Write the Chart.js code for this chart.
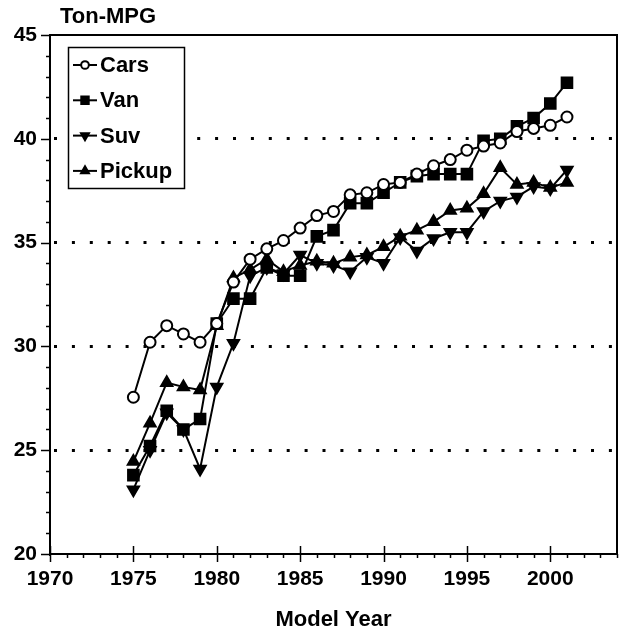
<!DOCTYPE html>
<html>
<head>
<meta charset="utf-8">
<script src="https://cdn.jsdelivr.net/npm/chart.js@4.4.0/dist/chart.umd.min.js"></script>
<style>
html,body{margin:0;padding:0;background:#fff;}
canvas{display:block;}
</style>
</head>
<body>
<canvas id="c" width="619" height="633"></canvas>
<script>
// ---------- data ----------
const years = [1975,1976,1977,1978,1979,1980,1981,1982,1983,1984,1985,1986,1987,1988,1989,1990,1991,1992,1993,1994,1995,1996,1997,1998,1999,2000,2001];
const cars   = [27.55,30.2,31.0,30.6,30.2,31.1,33.1,34.2,34.7,35.1,35.7,36.3,36.5,37.3,37.4,37.8,37.9,38.3,38.7,39.0,39.45,39.65,39.8,40.35,40.5,40.65,41.05];
const van    = [23.8,25.2,26.9,26.0,26.5,31.1,32.3,32.3,33.8,33.4,33.4,35.3,35.6,36.9,36.9,37.4,37.9,38.2,38.3,38.3,38.3,39.9,40.0,40.6,41.0,41.7,42.7];
const suv    = [23.1,25.0,26.8,26.0,24.1,28.05,30.15,33.4,33.8,33.5,34.4,34.0,33.9,33.6,34.3,34.0,35.25,34.6,35.2,35.5,35.5,36.5,37.0,37.2,37.7,37.6,38.5];
const pickup = [24.45,26.3,28.25,28.05,27.9,31.0,33.3,33.7,34.2,33.6,33.9,34.1,34.0,34.3,34.4,34.8,35.3,35.6,36.0,36.55,36.65,37.35,38.6,37.8,37.9,37.65,37.9];
const seriesLabels = ['Cars','Van','Suv','Pickup'];
const xTickValues = [1970,1975,1980,1985,1990,1995,2000];
const yTickValues = [20,25,30,35,40,45];
const gridValues = [25,30,35,40];
const yTitle = 'Ton-MPG';
const xTitle = 'Model Year';

// ---------- styling ----------
const FONT = '"Liberation Sans", Arial, Helvetica, sans-serif';
const tickFont = {family: FONT, size: 21, weight: 'bold'};
const axisTitleFont = {family: FONT, size: 22, weight: 'bold'};

function series(label, vals, style, rot, fill, r) {
  return {
    label: label,
    data: years.map((yr, i) => ({x: yr, y: vals[i]})),
    borderColor: '#000', borderWidth: 2, tension: 0, fill: false,
    pointStyle: style, pointRotation: rot, pointRadius: r,
    pointBackgroundColor: fill, pointBorderColor: '#000', pointBorderWidth: 2,
    legendRadius: r * 0.7
  };
}

const datasets = [
  series(seriesLabels[0], cars, 'circle', 0, '#fff', 5.5),
  series(seriesLabels[1], van, 'rect', 0, '#000', 7.5),
  series(seriesLabels[2], suv, 'triangle', 180, '#000', 6.5),
  series(seriesLabels[3], pickup, 'triangle', 0, '#000', 6.5)
];

const decor = {
  id: 'decor',
  beforeDatasetsDraw(chart) {
    const {ctx, chartArea: a, scales: {x, y}} = chart;
    ctx.save();
    ctx.strokeStyle = '#000';
    ctx.lineWidth = 2;
    ctx.beginPath();
    ctx.moveTo(a.left, a.top); ctx.lineTo(a.right, a.top); ctx.lineTo(a.right, a.bottom);
    ctx.stroke();
    ctx.lineWidth = 1.5;
    for (let v = x.min; v <= x.max; v++) {
      const px = Math.round(x.getPixelForValue(v)) + 0.5;
      ctx.beginPath();
      if (v % 5 === 0) { ctx.moveTo(px, a.bottom - 8); ctx.lineTo(px, a.bottom + 8); }
      else { ctx.moveTo(px, a.bottom); ctx.lineTo(px, a.bottom + 4); }
      ctx.stroke();
    }
    for (let v = y.min; v <= y.max; v++) {
      const py = Math.round(y.getPixelForValue(v)) + 0.5;
      ctx.beginPath();
      if (v % 5 === 0) { ctx.moveTo(a.left - 9, py); ctx.lineTo(a.left, py); }
      else { ctx.moveTo(a.left - 4, py); ctx.lineTo(a.left, py); }
      ctx.stroke();
    }
    ctx.fillStyle = '#000';
    ctx.font = 'bold 22px ' + FONT;
    ctx.textBaseline = 'middle';
    ctx.textAlign = 'left';
    ctx.fillText(yTitle, 60, 17);
    ctx.restore();
  },
  afterDatasetsDraw(chart) {
    const ctx = chart.ctx;
    const L = 68, T = 47, R = 184, B = 188;
    ctx.save();
    ctx.fillStyle = '#fff';
    ctx.fillRect(L, T, R - L, B - T);
    ctx.strokeStyle = '#000';
    ctx.lineWidth = 1.5;
    ctx.strokeRect(L + 0.5, T + 0.5, R - L, B - T);
    chart.data.datasets.forEach((ds, i) => {
      const cy = 65 + i * 35.3;
      ctx.strokeStyle = '#000';
      ctx.lineWidth = 2;
      ctx.beginPath(); ctx.moveTo(73, cy); ctx.lineTo(97, cy); ctx.stroke();
      ctx.fillStyle = ds.pointBackgroundColor;
      ctx.lineWidth = ds.pointBorderWidth;
      if (Chart.helpers && Chart.helpers.drawPoint) {
        Chart.helpers.drawPoint(ctx, {pointStyle: ds.pointStyle, rotation: ds.pointRotation, radius: ds.legendRadius, borderWidth: ds.pointBorderWidth}, 85, cy);
      }
      ctx.fillStyle = '#000';
      ctx.font = 'bold 22px ' + FONT;
      ctx.textBaseline = 'middle';
      ctx.textAlign = 'left';
      ctx.fillText(ds.label, 100, cy + 1);
    });
    ctx.restore();
  }
};

new Chart(document.getElementById('c'), {
  type: 'line',
  data: {datasets: datasets},
  options: {
    responsive: false,
    animation: false,
    devicePixelRatio: 1,
    layout: {autoPadding: false, padding: {left: 0, top: 35, right: 2, bottom: 0}},
    plugins: {legend: {display: false}, tooltip: {enabled: false}, title: {display: false}},
    scales: {
      x: {
        type: 'linear', min: 1970, max: 2004,
        afterFit: s => { s.height = 79; s.paddingLeft = 0; s.paddingRight = 0; },
        afterBuildTicks: s => { s.ticks = xTickValues.map(v => ({value: v})); },
        grid: {display: false, drawTicks: false},
        border: {display: true, color: '#000', width: 2},
        ticks: {padding: 13, font: tickFont, color: '#000', autoSkip: false, maxRotation: 0, callback: v => String(v)},
        title: {display: true, text: xTitle, font: axisTitleFont, color: '#000', padding: {top: 0, bottom: 0}}
      },
      y: {
        type: 'linear', min: 20, max: 45,
        afterFit: s => { s.width = 50; },
        afterBuildTicks: s => { s.ticks = yTickValues.map(v => ({value: v})); },
        grid: {
          color: c => (c.tick && gridValues.includes(c.tick.value)) ? '#000' : 'rgba(0,0,0,0)',
          lineWidth: 3, drawTicks: false
        },
        border: {display: true, color: '#000', width: 2, dash: [3, 14.9], dashOffset: -3},
        ticks: {padding: 13, font: tickFont, color: '#000', autoSkip: false, callback: v => String(v)}
      }
    }
  },
  plugins: [decor]
});
</script>
</body>
</html>
